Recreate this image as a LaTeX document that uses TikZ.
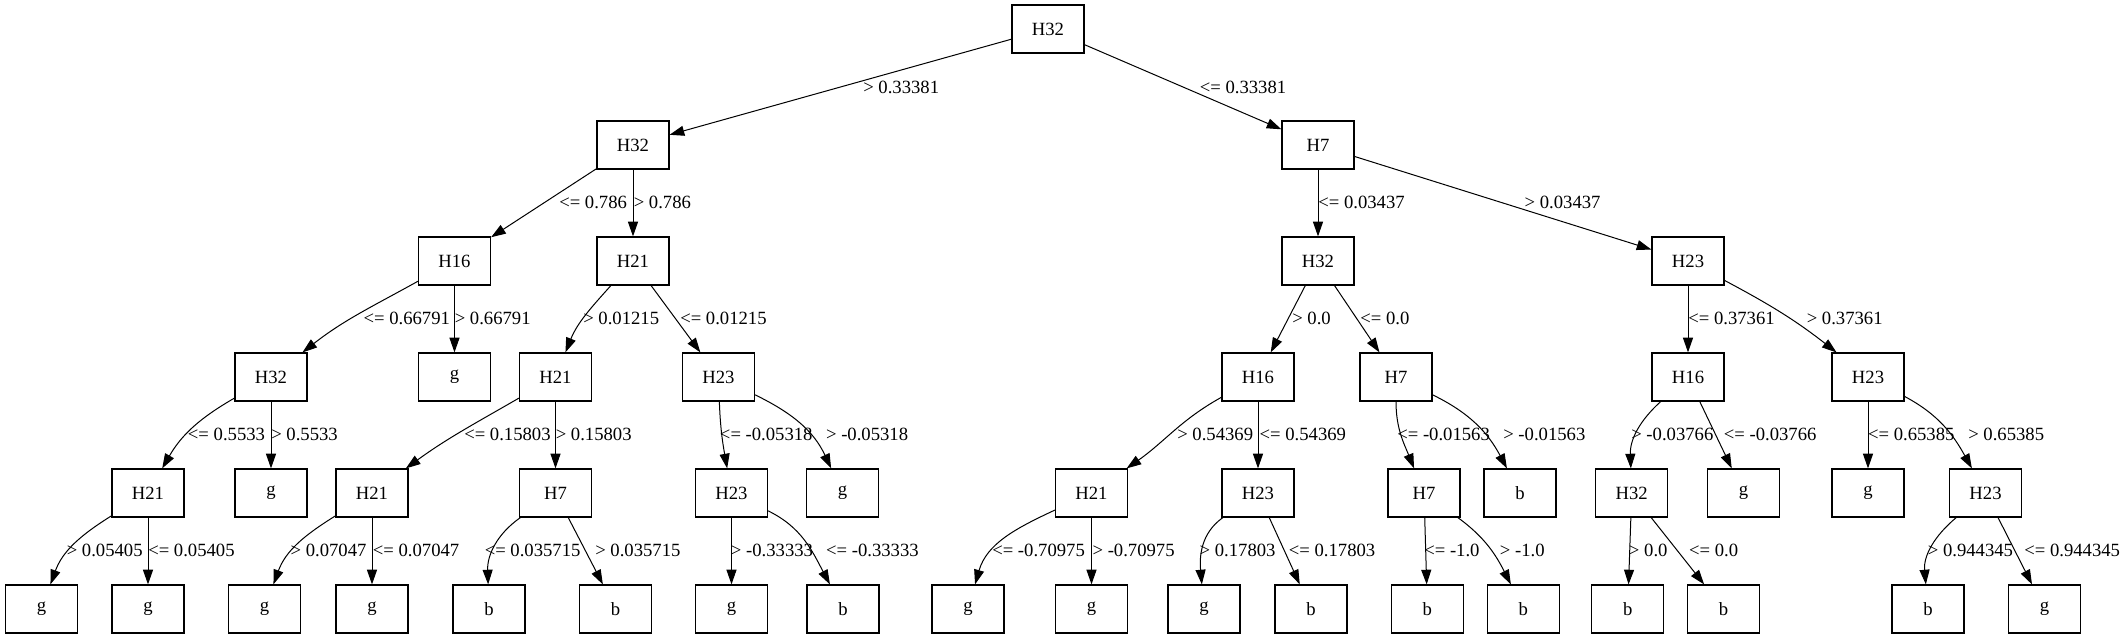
\documentclass[tikz,border=0pt]{standalone}
\usepackage{fontspec}
\setmainfont{Liberation Serif}
\usetikzlibrary{arrows.meta}

\begin{document}
\begin{tikzpicture}[x=0.75pt,y=-0.75pt,
        font=\fontsize{14pt}{16pt}\selectfont,
        box/.style={draw,line width=0.9pt,minimum width=54pt,minimum height=36pt,inner sep=0pt},
        edge/.style={line width=0.75pt,-{Triangle[length=11pt,width=7.5pt]}},
        cond/.style={anchor=west,inner sep=0pt}]

\useasboundingbox (0,0) rectangle (2125,639);

\node [box] (t) at (1048,29) {H32};

\node [box] (tl) at (633,145) {H32};
\node [box] (tr) at (1318,145) {H7};

\node [box] (tll) at (454.5,261) {H16};
\node [box] (tlr) at (633,261) {H21};
\node [box] (trl) at (1318,261) {H32};
\node [box] (trr) at (1688,261) {H23};

\node [box] (tlll) at (271,377) {H32};
\node [box] (tllr) at (454.5,377) {g};
\node [box] (tlrl) at (555.5,377) {H21};
\node [box] (tlrr) at (718.5,377) {H23};
\node [box] (trll) at (1258,377) {H16};
\node [box] (trlr) at (1396,377) {H7};
\node [box] (trrl) at (1688,377) {H16};
\node [box] (trrr) at (1868,377) {H23};

\node [box] (tllll) at (148,493) {H21};
\node [box] (tlllr) at (271,493) {g};
\node [box] (tlrll) at (372,493) {H21};
\node [box] (tlrlr) at (555.5,493) {H7};
\node [box] (tlrrl) at (731.5,493) {H23};
\node [box] (tlrrr) at (842.6,493) {g};
\node [box] (trlll) at (1091.5,493) {H21};
\node [box] (trllr) at (1258,493) {H23};
\node [box] (trlrl) at (1424,493) {H7};
\node [box] (trlrr) at (1520,493) {b};
\node [box] (trrll) at (1631.7,493) {H32};
\node [box] (trrlr) at (1743.5,493) {g};
\node [box] (trrrl) at (1868,493) {g};
\node [box] (trrrr) at (1985.5,493) {H23};

\node [box] (tlllll) at (41.5,609) {g};
\node [box] (tllllr) at (148,609) {g};
\node [box] (tlrlll) at (264.5,609) {g};
\node [box] (tlrllr) at (372,609) {g};
\node [box] (tlrlrl) at (489,609) {b};
\node [box] (tlrlrr) at (615.6,609) {b};
\node [box] (tlrrll) at (731.5,609) {g};
\node [box] (tlrrlr) at (843,609) {b};
\node [box] (trllll) at (968,609) {g};
\node [box] (trlllr) at (1091.5,609) {g};
\node [box] (trllrl) at (1204,609) {g};
\node [box] (trllrr) at (1311,609) {b};
\node [box] (trlrll) at (1427.4,609) {b};
\node [box] (trlrlr) at (1523.4,609) {b};
\node [box] (trrlll) at (1627.7,609) {b};
\node [box] (trrllr) at (1723.6,609) {b};
\node [box] (trrrrl) at (1928,609) {b};
\node [box] (trrrrr) at (2044.5,609) {g};

\draw [edge] (t) -- (tl);
\draw [edge] (t) -- (tr);
\draw [edge] (tl) -- (tll);
\draw [edge] (tl) -- (tlr);
\draw [edge] (tr) -- (trl);
\draw [edge] (tr) -- (trr);

\draw [edge] (tll) to[out=209,in=38] (tlll);
\draw [edge] (tll) -- (tllr);
\draw [edge] (tlr) to[out=228,in=68] (tlrl);
\draw [edge] (tlr) -- (tlrr);
\draw [edge] (trl) -- (trll);
\draw [edge] (trl) -- (trlr);
\draw [edge] (trr) -- (trrl);
\draw [edge] (trr) to[out=-28,in=142] (trrr);

\draw [edge] (tlll) to[out=210,in=60] (tllll);
\draw [edge] (tlll) -- (tlllr);
\draw [edge] (tlrl) to[out=210,in=36] (tlrll);
\draw [edge] (tlrl) -- (tlrlr);
\draw [edge] (tlrr) to[out=-88,in=100] (tlrrl);
\draw [edge] (tlrr) to[out=-26,in=115] (tlrrr);
\draw [edge] (trll) to[out=209,in=35] (trlll);
\draw [edge] (trll) -- (trllr);
\draw [edge] (trlr) to[out=-90,in=112] (trlrl);
\draw [edge] (trlr) to[out=-26,in=118] (trlrr);
\draw [edge] (trrl) to[out=222,in=92] (trrll);
\draw [edge] (trrl) -- (trrlr);
\draw [edge] (trrr) -- (trrrl);
\draw [edge] (trrr) to[out=-28,in=119] (trrrr);

\draw [edge] (tllll) to[out=212,in=70] (tlllll);
\draw [edge] (tllll) -- (tllllr);
\draw [edge] (tlrll) to[out=212,in=70] (tlrlll);
\draw [edge] (tlrll) -- (tlrllr);
\draw [edge] (tlrlr) to[out=215,in=92] (tlrlrl);
\draw [edge] (tlrlr) -- (tlrlrr);
\draw [edge] (tlrrl) -- (tlrrll);
\draw [edge] (tlrrl) to[out=-26,in=118] (tlrrlr);
\draw [edge] (trlll) to[out=205,in=74] (trllll);
\draw [edge] (trlll) -- (trlllr);
\draw [edge] (trllr) to[out=215,in=95] (trllrl);
\draw [edge] (trllr) -- (trllrr);
\draw [edge] (trlrl) -- (trlrll);
\draw [edge] (trlrl) to[out=-36,in=117] (trlrlr);
\draw [edge] (trrll) -- (trrlll);
\draw [edge] (trrll) -- (trrllr);
\draw [edge] (trrrr) to[out=220,in=95] (trrrrl);
\draw [edge] (trrrr) -- (trrrrr);

\node [cond] (etl) at (863,87) {> 0.33381};
\node [cond] (etr) at (1199.5,87) {<= 0.33381};

\node [cond] (etll) at (559,202) {<= 0.786};
\node [cond] (etlr) at (633.5,202) {> 0.786};
\node [cond] (etrl) at (1318,202) {<= 0.03437};
\node [cond] (etrr) at (1524.4,202) {> 0.03437};

\node [cond] (etlll) at (363.3,318) {<= 0.66791};
\node [cond] (etllr) at (454.5,318) {> 0.66791};
\node [cond] (etlrl) at (583,318) {> 0.01215};
\node [cond] (etlrr) at (680,318) {<= 0.01215};
\node [cond] (etrll) at (1292,318) {> 0.0};
\node [cond] (etrlr) at (1360,318) {<= 0.0};
\node [cond] (etrrl) at (1688,318) {<= 0.37361};
\node [cond] (etrrr) at (1806.5,318) {> 0.37361};

\node [cond] (etllll) at (187.7,434) {<= 0.5533};
\node [cond] (etlllr) at (271,434) {> 0.5533};
\node [cond] (etlrll) at (464,434) {<= 0.15803};
\node [cond] (etlrlr) at (555.5,434) {> 0.15803};
\node [cond] (etlrrl) at (719.7,434) {<= -0.05318};
\node [cond] (etlrrr) at (825.8,434) {> -0.05318};
\node [cond] (etrlll) at (1177,434) {> 0.54369};
\node [cond] (etrllr) at (1259.4,434) {<= 0.54369};
\node [cond] (etrlrl) at (1397,434) {<= -0.01563};
\node [cond] (etrlrr) at (1503,434) {> -0.01563};
\node [cond] (etrrll) at (1631,434) {> -0.03766};
\node [cond] (etrrlr) at (1723.6,434) {<= -0.03766};
\node [cond] (etrrrl) at (1867.8,434) {<= 0.65385};
\node [cond] (etrrrr) at (1968,434) {> 0.65385};

\node [cond] (etlllll) at (66.5,550) {> 0.05405};
\node [cond] (etllllr) at (148,550) {<= 0.05405};
\node [cond] (etlrlll) at (290.3,550) {> 0.07047};
\node [cond] (etlrllr) at (372.6,550) {<= 0.07047};
\node [cond] (etlrlrl) at (484.5,550) {<= 0.035715};
\node [cond] (etlrlrr) at (595,550) {> 0.035715};
\node [cond] (etlrrll) at (730.7,550) {> -0.33333};
\node [cond] (etlrrlr) at (825.8,550) {<= -0.33333};
\node [cond] (etrllll) at (992,550) {<= -0.70975};
\node [cond] (etrlllr) at (1092.3,550) {> -0.70975};
\node [cond] (etrllrl) at (1199.4,550) {> 0.17803};
\node [cond] (etrllrr) at (1288.6,550) {<= 0.17803};
\node [cond] (etrlrll) at (1424,550) {<= -1.0};
\node [cond] (etrlrlr) at (1499.7,550) {> -1.0};
\node [cond] (etrrlll) at (1628.7,550) {> 0.0};
\node [cond] (etrrllr) at (1688.8,550) {<= 0.0};
\node [cond] (etrrrrl) at (1927.6,550) {> 0.944345};
\node [cond] (etrrrrr) at (2024,550) {<= 0.944345};
\end{tikzpicture}
\end{document}
